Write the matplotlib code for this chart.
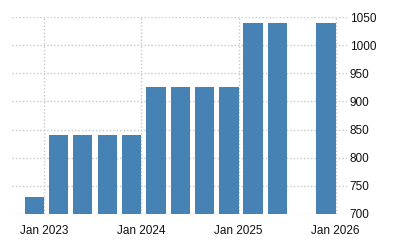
import datetime as dt
import numpy as np
import matplotlib
matplotlib.use("Agg")
import matplotlib.pyplot as plt
import matplotlib.dates as mdates

# quarterly values (Oct 2025 not reported)
dates = ["2023-01-01", "2023-04-01", "2023-07-01", "2023-10-01",
         "2024-01-01", "2024-04-01", "2024-07-01", "2024-10-01",
         "2025-01-01", "2025-04-01", "2025-07-01", "2025-10-01",
         "2026-01-01"]
values = [730, 840, 840, 840,
          840, 925, 925, 925,
          925, 1040, 1040, np.nan,
          1040]
yticks = [700, 750, 800, 850, 900, 950, 1000, 1050]
xticks = ["2023-01-01", "2024-01-01", "2025-01-01", "2026-01-01"]

plt.rcParams['font.family'] = ['Liberation Sans', 'DejaVu Sans']

x = [dt.datetime.fromisoformat(d) for d in dates]

fig = plt.figure(figsize=(4, 2.5), dpi=100)
ax = fig.add_axes([0.03, 0.144, 0.8375, 0.788])

# bars end at the quarter date
ax.bar(x, values, width=-72, align='edge', color='#4682b4', zorder=2)

ax.set_ylim(700, 1050)
ax.set_yticks(yticks)
ax.set_xlim(dt.datetime(2022, 9, 1), dt.datetime(2026, 2, 13))
ax.set_xticks([dt.datetime.fromisoformat(d) for d in xticks])
ax.xaxis.set_major_formatter(mdates.DateFormatter('%b %Y'))

ax.yaxis.tick_right()
ax.tick_params(axis='both', length=0, labelsize=8.5, colors='#111111')
ax.tick_params(axis='y', pad=2)
ax.tick_params(axis='x', pad=8)

ax.grid(True, color='#c8c8c8', linestyle=(0, (1, 1.5)), linewidth=1, zorder=0)
for s in ax.spines.values():
    s.set_visible(False)

plt.savefig("out.png", dpi=100)
